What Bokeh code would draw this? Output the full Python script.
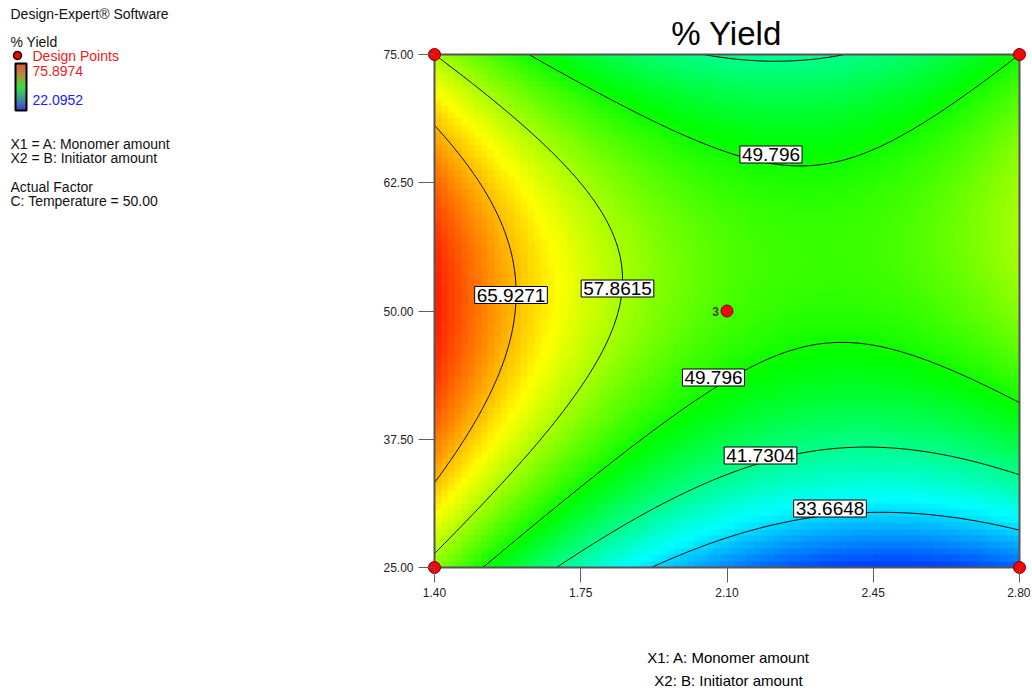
import numpy as np
from bokeh.plotting import figure
from bokeh.layouts import row
from bokeh.models import Range1d, FixedTicker, PrintfTickFormatter, Label, LinearColorMapper
from bokeh.core.properties import value
from bokeh.embed import file_html
from bokeh.resources import INLINE

# ---------------- data ----------------
x_ticks = [1.40, 1.75, 2.10, 2.45, 2.80]          # A: Monomer amount
y_ticks = [25.0, 37.5, 50.0, 62.5, 75.0]          # B: Initiator amount
design_a = [1.40, 2.80, 1.40, 2.80, 2.10]
design_b = [25.0, 25.0, 75.0, 75.0, 50.0]
design_reps = ["", "", "", "", "3"]
# quadratic response-surface coefficients in coded units (estimated from the contours)
coef_names = ["Intercept", "A", "B", "A^2", "B^2", "AB"]
coef_values = [52.73, -9.18, 6.10, 12.50, -17.50, 5.15]
contour_levels = [33.6648, 41.7304, 49.796, 57.8615, 65.9271]
contour_label_texts = ["65.9271", "57.8615", "49.796", "49.796", "41.7304", "33.6648"]
response_max = 75.8974
response_min = 22.0952
legend_lines = ["Design-Expert\u00ae Software", "% Yield", "X1 = A: Monomer amount",
                "X2 = B: Initiator amount", "Actual Factor", "C: Temperature = 50.00"]
title_text = "% Yield"
axis_titles = ["X1: A: Monomer amount", "X2: B: Initiator amount"]

# ---------------- layout (screen pixels of the reference) ----------------
FONT = "Liberation Sans"
W, H = 1030, 692
WL = 210
BOX_L, BOX_R, BOX_T, BOX_B = 434, 1019, 54, 567     # data box in px
FR_L, FR_R, FR_T, FR_B = 426, W, 0, 575             # frame in px


def xd(sx):
    return x_ticks[0] + (sx - BOX_L) * (x_ticks[-1] - x_ticks[0]) / (BOX_R - BOX_L)


def yd(sy):
    return y_ticks[0] + (BOX_B - sy) * (y_ticks[-1] - y_ticks[0]) / (BOX_B - BOX_T)


def make_ramp(stops):
    def ramp(t):
        n = len(stops) - 1
        t = min(max(t, 0.0), 1.0) * n
        k = min(int(t), n - 1)
        f = t - k
        c = [round(stops[k][j] * (1 - f) + stops[k + 1][j] * f) for j in range(3)]
        return "#%02x%02x%02x" % tuple(c)
    return ramp


ramp = make_ramp([(0, 0, 255), (0, 255, 255), (0, 255, 0), (255, 255, 0), (255, 0, 0)])
legend_ramp = make_ramp([(0, 0, 200), (0, 120, 110), (0, 210, 0), (150, 110, 0), (210, 30, 0)])
palette = [ramp(i / 255) for i in range(256)]

a_mid = (x_ticks[0] + x_ticks[-1]) / 2
a_half = (x_ticks[-1] - x_ticks[0]) / 2
b_mid = (y_ticks[0] + y_ticks[-1]) / 2
b_half = (y_ticks[-1] - y_ticks[0]) / 2


def model(a, b):
    A = (a - a_mid) / a_half
    B = (b - b_mid) / b_half
    c = coef_values
    return c[0] + c[1] * A + c[2] * B + c[3] * A * A + c[4] * B * B + c[5] * A * B


# ---------------- main plot ----------------
p = figure(width=W - WL, height=H, output_backend="svg", toolbar_location=None,
           x_range=Range1d(xd(FR_L), xd(FR_R)), y_range=Range1d(yd(FR_B), yd(FR_T)),
           min_border_left=FR_L - WL, min_border_right=0,
           min_border_top=FR_T, min_border_bottom=H - FR_B)
p.outline_line_color = None
p.grid.visible = False
p.background_fill_color = "white"
p.border_fill_color = "white"

nx, ny = 88, 80
xc = x_ticks[0] + (np.arange(nx) + 0.5) * (x_ticks[-1] - x_ticks[0]) / nx
yc = y_ticks[0] + (np.arange(ny) + 0.5) * (y_ticks[-1] - y_ticks[0]) / ny
XC, YC = np.meshgrid(xc, yc)
Z = model(XC, YC)
mapper = LinearColorMapper(palette=palette, low=response_min, high=response_max)
p.image(image=[Z], x=x_ticks[0], y=y_ticks[0], dw=x_ticks[-1] - x_ticks[0],
        dh=y_ticks[-1] - y_ticks[0], color_mapper=mapper)

xf = np.linspace(x_ticks[0], x_ticks[-1], 301)
yf = np.linspace(y_ticks[0], y_ticks[-1], 301)
XF, YF = np.meshgrid(xf, yf)
ZF = model(XF, YF)
p.contour(x=xf, y=yf, z=ZF, levels=contour_levels, line_color="black", line_width=1)

p.quad(left=[x_ticks[0]], right=[x_ticks[-1]], bottom=[y_ticks[0]], top=[y_ticks[-1]],
       fill_color=None, line_color="#555555", line_width=2)

p.scatter(design_a, design_b, size=12, fill_color="#ff0000", line_color="#700000", line_width=1)

for ax in (p.xaxis[0], p.yaxis[0]):
    ax.axis_line_color = None
    ax.minor_tick_line_color = None
    ax.major_tick_line_color = "#606060"
    ax.major_tick_in = 8
    ax.major_label_text_font = FONT
    ax.major_label_text_font_size = "12px"
    ax.major_label_text_color = "#222222"
    ax.formatter = PrintfTickFormatter(format="%.2f")
p.xaxis.ticker = FixedTicker(ticks=x_ticks)
p.yaxis.ticker = FixedTicker(ticks=y_ticks)
p.xaxis.major_tick_out = 7
p.xaxis.major_label_standoff = 5
p.yaxis.major_tick_out = 8
p.yaxis.major_label_standoff = 5

xa = p.xaxis[0]
xa.axis_label = "\n".join(axis_titles)
xa.axis_label_text_font = FONT
xa.axis_label_text_font_size = "15px"
xa.axis_label_text_font_style = "normal"
xa.axis_label_text_color = "black"
xa.axis_label_text_line_height = 1.4
xa.axis_label_standoff = 49

label_pos = [(510.5, 294.5), (617, 288), (770.5, 154), (713, 377), (760, 455), (829.5, 508)]
for txt, (sx, sy) in zip(contour_label_texts, label_pos):
    p.add_layout(Label(x=xd(sx), y=yd(sy), text=txt, text_align="center", text_baseline="middle",
                       text_font=FONT, text_font_size="19px", text_color="black",
                       background_fill_color="white", border_line_color="black",
                       border_line_width=1, padding=2))

for a, b, r in zip(design_a, design_b, design_reps):
    if r:
        p.add_layout(Label(x=a, y=b, text=r, x_offset=-8, text_align="right", text_baseline="middle",
                           text_font=FONT, text_font_size="12px", text_font_style="bold"))

p.add_layout(Label(x=xd(726), y=yd(33), text=title_text, text_align="center", text_baseline="middle",
                   text_font=FONT, text_font_size="33px", text_color="black"))

# ---------------- legend block (left) ----------------
q = figure(width=WL, height=H, output_backend="svg", toolbar_location=None,
           x_range=Range1d(0, WL), y_range=Range1d(FR_B, FR_T), x_axis_type=None, y_axis_type=None,
           min_border_left=0, min_border_right=0, min_border_top=FR_T, min_border_bottom=H - FR_B)
q.outline_line_color = None
q.grid.visible = False

q.text(x=[10] * 6, y=[13, 41, 143, 157, 186, 200], text=legend_lines,
       text_font=value(FONT), text_font_size="14px", text_color="#111111", text_baseline="middle")
q.scatter(x=[17], y=[55], size=8, fill_color="#ff0000", line_color="black", line_width=1.5)
q.text(x=[32], y=[55], text=["Design Points"], text_font=value(FONT), text_font_size="14px",
       text_color="#ee1c1c", text_baseline="middle")
q.text(x=[32], y=[70], text=["%.4f" % response_max], text_font=value(FONT),
       text_font_size="14px", text_color="#ee1c1c", text_baseline="middle")
q.text(x=[32], y=[99], text=["%.4f" % response_min], text_font=value(FONT),
       text_font_size="14px", text_color="#2020ff", text_baseline="middle")
n = 47
tops = [63 + i for i in range(n)]
q.quad(left=15, right=26, top=tops, bottom=[t + 1 for t in tops],
       fill_color=[legend_ramp(1 - i / (n - 1)) for i in range(n)], line_color=None)
q.quad(left=[15], right=[26], top=[63], bottom=[110], fill_color=None,
       line_color="black", line_width=2)

layout = row(q, p)
open("out.html", "w").write(file_html(layout, INLINE))
